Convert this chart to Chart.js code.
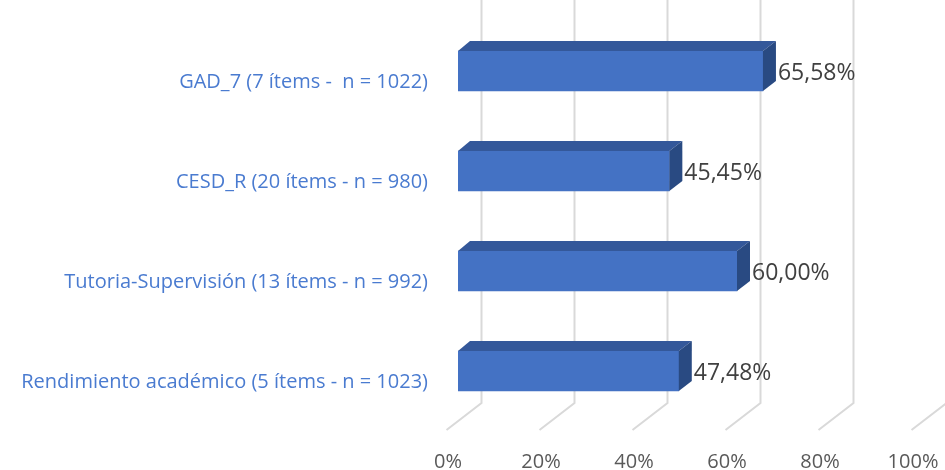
<!DOCTYPE html>
<html>
<head>
<meta charset="utf-8">
<script src="https://cdn.jsdelivr.net/npm/chart.js@4/dist/chart.umd.min.js"></script>
<style>
  html, body { margin: 0; padding: 0; background: #fff; }
  #wrap { width: 945px; height: 470px; }
</style>
</head>
<body>
<div id="wrap"><canvas id="c"></canvas></div>
<script>
// categorías y porcentajes
const categories = [
  'GAD_7 (7 ítems -  n = 1022)',
  'CESD_R (20 ítems - n = 980)',
  'Tutoria-Supervisión (13 ítems - n = 992)',
  'Rendimiento académico (5 ítems - n = 1023)'
];
const percents = [65.58, 45.45, 60.00, 47.48];
const xTicks = [0, 20, 40, 60, 80, 100];

const FONT = '"Open Sans", "Noto Sans", sans-serif';
const fmtPct = v => v.toFixed(2).replace('.', ',') + '%';
const noPad = s => { s.paddingLeft = s.paddingRight = s.paddingTop = s.paddingBottom = 0; };

// caras superior y lateral + etiquetas, para imitar la barra 3D de Excel
const bar3d = {
  id: 'bar3d',
  beforeDatasetsDraw(chart) {
    const { ctx, chartArea: ca } = chart;
    const xs = chart.scales.x;
    ctx.save();
    ctx.strokeStyle = '#d9d9d9';
    ctx.lineWidth = 2;
    xTicks.forEach(t => {
      const px = xs.getPixelForValue(t) + 23.5;
      ctx.beginPath();
      ctx.moveTo(px, 0);
      ctx.lineTo(px, ca.bottom - 18);
      ctx.lineTo(px - 35, ca.bottom + 9);
      ctx.stroke();
    });
    ctx.restore();
  },
  afterDatasetsDraw(chart) {
    const { ctx } = chart;
    const meta = chart.getDatasetMeta(0);
    const dx = 13, dy = -10;
    ctx.save();
    meta.data.forEach((b, i) => {
      const top = b.y - b.height / 2, bot = b.y + b.height / 2;
      ctx.fillStyle = '#34589a';
      ctx.beginPath();
      ctx.moveTo(b.base, top);
      ctx.lineTo(b.base + dx - 1, top + dy);
      ctx.lineTo(b.x + dx, top + dy);
      ctx.lineTo(b.x, top);
      ctx.closePath();
      ctx.fill();
      ctx.fillStyle = '#294a82';
      ctx.beginPath();
      ctx.moveTo(b.x, top);
      ctx.lineTo(b.x + dx, top + dy);
      ctx.lineTo(b.x + dx, bot + dy);
      ctx.lineTo(b.x, bot);
      ctx.closePath();
      ctx.fill();
      ctx.fillStyle = '#404040';
      ctx.font = '23px ' + FONT;
      ctx.textAlign = 'left';
      ctx.textBaseline = 'middle';
      ctx.fillText(fmtPct(percents[i]), b.x + dx + 2, b.y + 2);
    });
    ctx.restore();
  }
};

new Chart(document.getElementById('c'), {
  type: 'bar',
  data: {
    labels: categories,
    datasets: [{ data: percents, backgroundColor: '#4472c4', borderWidth: 0, barThickness: 40 }]
  },
  options: {
    indexAxis: 'y',
    responsive: true,
    maintainAspectRatio: false,
    animation: false,
    layout: { padding: { top: 21, right: 22, left: 0, bottom: 0 } },
    plugins: { legend: { display: false }, tooltip: { enabled: false } },
    scales: {
      x: {
        min: 0, max: 100,
        afterBuildTicks: s => { s.ticks = xTicks.map(v => ({ value: v })); },
        afterFit: s => { s.height = 49; noPad(s); },
        border: { display: false },
        grid: { display: false, drawTicks: false },
        ticks: {
          color: '#595959', font: { size: 20, family: FONT }, padding: 29, labelOffset: -10,
          callback: v => v + '%'
        }
      },
      y: {
        afterFit: s => { s.width = 458; noPad(s); },
        border: { display: false },
        grid: { display: false, drawTicks: false },
        ticks: { color: '#4a7bd0', font: { size: 20, family: FONT }, padding: 30, labelOffset: 11 }
      }
    }
  },
  plugins: [bar3d]
});
</script>
</body>
</html>
